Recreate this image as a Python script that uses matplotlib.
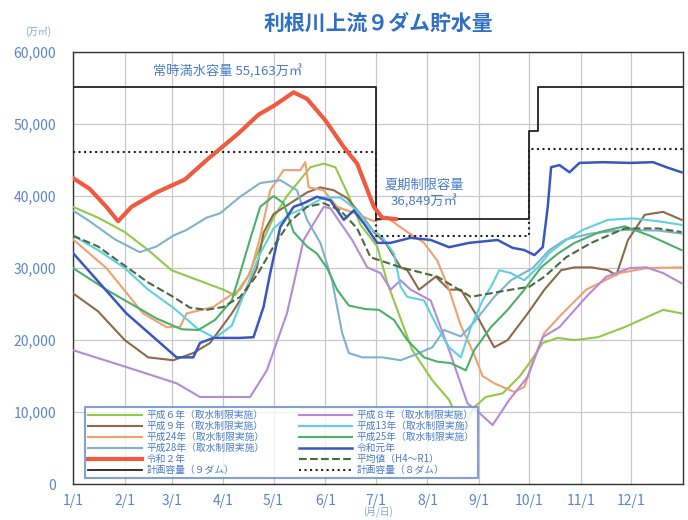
import matplotlib.pyplot as plt

plt.rcParams['font.family'] = ['Noto Sans CJK JP', 'DejaVu Sans']

# x axis: day of year (0 = 1/1)
month_days = [0, 31, 59, 90, 120, 151, 181, 212, 243, 273, 304, 334]
month_labels = ['1/1', '2/1', '3/1', '4/1', '5/1', '6/1', '7/1', '8/1', '9/1', '10/1', '11/1', '12/1']

# 平成6年
h6_days = [0, 15, 31, 45, 59, 75, 90, 97, 105, 112, 120, 128, 135, 142, 150, 157, 165, 172, 182, 188, 194,
           203, 215, 225, 233, 240, 247, 257, 267, 273, 281, 290, 300, 314, 330, 353, 364]
h6_vals = [38500, 37000, 35000, 32500, 29700, 28300, 27000, 26200, 29000, 33000, 37000, 40000, 42000, 44000, 44500,
           44000, 40000, 36000, 33000, 28000, 24200, 18600, 14400, 11700, 7500, 10700, 12100, 12600, 14900, 16800,
           19600, 20300, 20000, 20400, 21800, 24200, 23700]

# 平成9年
h9_days = [0, 15, 31, 45, 60, 72, 82, 95, 104, 110, 114, 120, 130, 140, 148, 156, 164, 172, 180, 187, 196,
           200, 207, 217, 225, 232, 242, 252, 260, 272, 282, 292, 300, 310, 320, 325, 332, 342, 353, 364]
h9_vals = [26500, 24000, 20000, 17600, 17200, 18200, 19600, 23700, 27000, 30000, 34900, 37500, 39000, 40500,
           41200, 40800, 39700, 37500, 35000, 33500, 30100, 29700, 27000, 28800, 27000, 27000, 23200, 19000,
           20000, 23700, 27000, 29700, 30100, 30100, 29700, 29000, 33900, 37400, 37800, 36700]

# 平成24年
h24_days = [0, 20, 42, 56, 64, 68, 84, 96, 100, 106, 112, 118, 126, 136, 139, 141, 150, 158, 170, 180, 188,
            200, 210, 218, 225, 232, 240, 245, 252, 264, 270, 275, 282, 292, 307, 327, 343, 364]
h24_vals = [34000, 30000, 23700, 21800, 21800, 23700, 24600, 26500, 27000, 29300, 34300, 40800, 43600, 43600,
            44700, 41200, 40800, 38500, 37500, 36500, 37000, 35000, 33500, 31000, 27000, 22000, 18000, 15000,
            14000, 12800, 13500, 17000, 21000, 23500, 27000, 29300, 30000, 30100]

# 平成28年
h28_days = [0, 10, 25, 40, 50, 60, 68, 80, 88, 100, 112, 124, 134, 140, 148, 155, 161, 165, 173, 185, 196,
            205, 215, 222, 232, 240, 252, 262, 275, 285, 295, 310, 330, 350, 364]
h28_vals = [38000, 36500, 34000, 32200, 33000, 34500, 35300, 37000, 37600, 39900, 41800, 42200, 40800, 36700,
            33500, 28300, 21000, 18200, 17600, 17600, 17200, 18000, 19000, 21400, 20500, 22500, 26000, 28300,
            30000, 32500, 34000, 34800, 35300, 35200, 34800]

# 令和2年
r2_days = [0, 10, 20, 27, 35, 50, 67, 80, 99, 111, 120, 132, 140, 151, 162, 170, 180, 185, 193]
r2_vals = [42500, 41000, 38500, 36500, 38500, 40500, 42300, 45000, 48700, 51300, 52500, 54400, 53500, 50500,
           46800, 44500, 38500, 37000, 36800]

# 平成8年
h8_days = [0, 32, 62, 76, 88, 106, 116, 128, 138, 150, 154, 167, 176, 184, 190, 196, 202, 214, 225, 236, 243,
           251, 261, 272, 281, 291, 307, 319, 333, 343, 353, 364]
h8_vals = [18600, 16250, 14000, 12100, 12100, 12100, 15800, 23700, 33900, 38500, 38300, 33900, 30100, 29300,
           27000, 28300, 27000, 25500, 18600, 11200, 9900, 8200, 11700, 14900, 20400, 21800, 26000, 28800, 30000,
           30100, 29300, 27900]

# 平成13年
h13_days = [0, 15, 31, 45, 60, 75, 85, 95, 100, 105, 112, 120, 130, 140, 150, 160, 170, 178, 185, 192, 196,
            200, 210, 218, 225, 232, 238, 245, 250, 255, 262, 270, 278, 285, 295, 305, 320, 335, 350, 364]
h13_vals = [34500, 32500, 30000, 27000, 24500, 21500, 20300, 22000, 25000, 28000, 32000, 35500, 37500, 38500,
            39800, 39800, 38000, 35500, 34300, 32000, 27400, 26000, 25500, 21800, 19000, 17600, 21800, 25500,
            27400, 29700, 29300, 28300, 30100, 32100, 33900, 35300, 36700, 36900, 36500, 36000]

# 平成25年
h25_days = [0, 20, 35, 50, 65, 75, 85, 95, 100, 106, 112, 120, 126, 132, 140, 146, 152, 158, 165, 175, 183,
            192, 200, 210, 218, 226, 235, 240, 250, 260, 270, 280, 290, 300, 315, 330, 345, 364]
h25_vals = [30000, 27000, 25000, 23000, 21500, 21400, 22800, 25500, 29300, 34000, 38500, 40000, 39000, 35000,
            33000, 32000, 30000, 27000, 24800, 24300, 24200, 22800, 20000, 17600, 17000, 16800, 15800, 18600,
            21800, 24200, 27000, 30100, 32000, 33500, 35000, 35800, 34500, 32500]

# 令和元年
r1_days = [0, 32, 62, 72, 76, 84, 100, 108, 114, 118, 124, 132, 138, 146, 154, 162, 168, 174, 182, 190, 202,
           214, 225, 237, 254, 263, 270, 276, 281, 284, 286, 291, 297, 303, 317, 333, 347, 355, 364]
r1_vals = [32100, 23700, 17600, 17600, 19600, 20300, 20300, 20400, 24600, 29300, 35700, 38500, 39000, 39900,
           39400, 36700, 38000, 36200, 33500, 33500, 34200, 33900, 32900, 33500, 33900, 32800, 32500, 31800,
           32900, 38500, 44000, 44300, 43300, 44600, 44700, 44600, 44700, 44000, 43300]

# 平均値（H4～R1）
avg_days = [0, 15, 30, 45, 60, 70, 80, 90, 100, 110, 120, 130, 140, 150, 160, 170, 178, 196, 218, 238, 262,
            273, 282, 295, 310, 330, 350, 364]
avg_vals = [34500, 33000, 30500, 28000, 26000, 24500, 24200, 24600, 26000, 29000, 33000, 36500, 38500, 39000,
            38000, 35500, 31500, 30100, 28800, 26000, 27000, 27400, 28800, 31500, 33500, 35500, 35500, 35000]

# 計画容量（９ダム）
plan9_days = [0, 181, 181, 273, 273, 278, 278, 365]
plan9_vals = [55163, 55163, 36849, 36849, 49000, 49000, 55163, 55163]

# 計画容量（８ダム）
plan8_days = [0, 181, 181, 273, 273, 365]
plan8_vals = [46100, 46100, 34500, 34500, 46500, 46500]

series = [
    (h6_days, h6_vals, '平成６年（取水制限実施）', '#93c94a', '-', 1.5),
    (h9_days, h9_vals, '平成９年（取水制限実施）', '#8c6a4a', '-', 1.5),
    (h24_days, h24_vals, '平成24年（取水制限実施）', '#f0a070', '-', 1.5),
    (h28_days, h28_vals, '平成28年（取水制限実施）', '#7fb2cf', '-', 1.5),
    (r2_days, r2_vals, '令和２年', '#f05a40', '-', 3.0),
    (plan9_days, plan9_vals, '計画容量（９ダム）', '#222222', '-', 1.3),
    (h8_days, h8_vals, '平成８年（取水制限実施）', '#b58ad6', '-', 1.5),
    (h13_days, h13_vals, '平成13年（取水制限実施）', '#5fd0e0', '-', 1.5),
    (h25_days, h25_vals, '平成25年（取水制限実施）', '#4caf6a', '-', 1.5),
    (r1_days, r1_vals, '令和元年', '#3858c0', '-', 1.8),
    (avg_days, avg_vals, '平均値（H4～R1）', '#4a6a40', '--', 1.5),
    (plan8_days, plan8_vals, '計画容量（８ダム）', '#222222', ':', 1.5),
]

fig = plt.figure(figsize=(6.88, 5.2), dpi=100)
ax = fig.add_axes([0.106, 0.069, 0.887, 0.831])

handles = []
for days, vals, label, color, ls, lw in series:
    z = 5 if label == '令和２年' else 3
    line, = ax.plot(days, vals, color=color, linestyle=ls, linewidth=lw, label=label, zorder=z)
    handles.append(line)

ax.set_xlim(0, 365)
ax.set_ylim(0, 60000)
ax.set_xticks(month_days)
ax.set_xticklabels(month_labels)
ax.set_yticks(range(0, 60001, 10000))
ax.set_yticklabels([f'{v:,}' for v in range(0, 60001, 10000)])
ax.grid(True, color='#c8c8c8', linewidth=0.9, zorder=0)
ax.tick_params(colors='#5a85c8', labelsize=10, length=0)
ax.tick_params(axis='x', pad=7)
ax.tick_params(axis='y', pad=12)
for s in ax.spines.values():
    s.set_color('#333333')
    s.set_linewidth(1.0)

txt_color = '#4a7cc8'
ax.text(48, 57300, '常時満水容量 55,163万㎥', color=txt_color, fontsize=9.5, va='center')
ax.text(210, 40300, '夏期制限容量\n36,849万㎥', color=txt_color, fontsize=9.5, ha='center', va='center',
        linespacing=1.3)

leg = ax.legend(handles=handles, ncol=2, loc='lower left', bbox_to_anchor=(0.012, 0.003),
                fontsize=7, frameon=True, fancybox=False, handlelength=5.5, columnspacing=3.5,
                labelspacing=0.1, borderpad=0.3, handletextpad=0.5)
leg.get_frame().set_edgecolor('#6688cc')
leg.get_frame().set_linewidth(1.5)
for t in leg.get_texts():
    t.set_color(txt_color)

fig.text(0.55, 0.955, '利根川上流９ダム貯水量', color='#2f6fc4', fontsize=15, fontweight='bold',
         ha='center', va='center')
fig.text(0.055, 0.94, '(万㎥)', color='#8aa4d4', fontsize=7, ha='center', va='center')
fig.text(0.55, 0.014, '(月/日)', color='#8aa4d4', fontsize=7, ha='center', va='center')

fig.savefig('out.png', dpi=100)
